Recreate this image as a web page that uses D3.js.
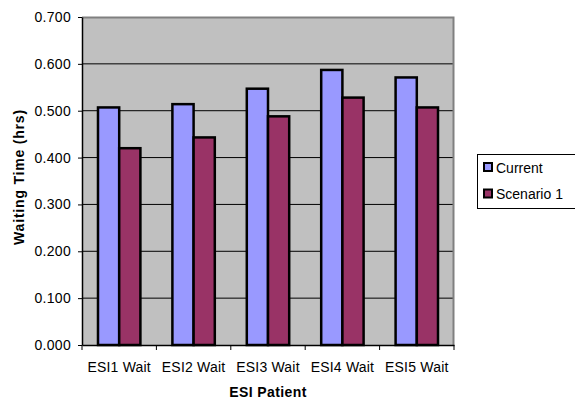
<!DOCTYPE html>
<html><head><meta charset="utf-8">
<script src="https://cdn.jsdelivr.net/npm/d3@7"></script>
<style>body{margin:0;background:#fff}svg{display:block;font-family:Arial,"Liberation Sans",sans-serif}</style>
</head><body><svg id="c" width="575" height="399"></svg>
<script>
const categories = ["ESI1 Wait","ESI2 Wait","ESI3 Wait","ESI4 Wait","ESI5 Wait"];
const seriesNames = ["Current","Scenario 1"];
const currentValues = [0.507,0.514,0.547,0.587,0.571];
const scenarioValues = [0.420,0.443,0.488,0.528,0.507];
const yTicks = [0,0.1,0.2,0.3,0.4,0.5,0.6,0.7];
const colors = ["#9999FF","#993366"];

const FONT = "Arial,'Liberation Sans',sans-serif";
const svg = d3.select("#c");
const L=82,T=17,R=454,B=345;
const x = d3.scaleBand().domain(categories).range([L,R]).paddingInner(0.43).paddingOuter(0.215);
const xs = d3.scaleBand().domain(seriesNames).range([0,x.bandwidth()]);
const y = d3.scaleLinear().domain([0,0.7]).range([B,T]);

svg.append("rect").attr("x",L).attr("y",T).attr("width",R-L).attr("height",B-T).attr("fill","#C0C0C0");
svg.append("g").selectAll("line").data(yTicks.filter(d=>d>0&&d<0.7)).join("line")
  .attr("x1",L).attr("x2",R).attr("y1",d=>y(d)).attr("y2",d=>y(d)).attr("stroke","#000").attr("stroke-width",1);
svg.append("path").attr("d",`M${L},${T+0.5}H${R-0.5}V${B}`).attr("fill","none").attr("stroke","#808080").attr("stroke-width",2);

const data = categories.map((c,i)=>({c, vals:[currentValues[i],scenarioValues[i]]}));
const g = svg.append("g").selectAll("g").data(data).join("g").attr("transform",d=>`translate(${x(d.c)},0)`);
g.selectAll("rect").data(d=>d.vals.map((v,j)=>({v,s:seriesNames[j],j}))).join("rect")
  .attr("x",d=>xs(d.s)).attr("width",xs.bandwidth()).attr("y",d=>y(d.v)).attr("height",d=>B-y(d.v))
  .attr("fill",d=>colors[d.j]).attr("stroke","#000").attr("stroke-width",2.5);

const ya = svg.append("g").attr("transform",`translate(${L},0)`)
  .call(d3.axisLeft(y).tickValues(yTicks).tickFormat(d3.format(".3f")).tickSize(4).tickSizeOuter(0).tickPadding(7));
ya.select(".domain").attr("stroke","#000").attr("stroke-width",1.5);
ya.selectAll("text").attr("font-size",14).attr("fill","#000").attr("font-family",FONT).attr("letter-spacing",0.3);

const xa = svg.append("g").attr("transform",`translate(0,${B})`)
  .call(d3.axisBottom(x).tickSize(0).tickSizeOuter(0));
xa.select(".domain").attr("stroke","#000").attr("stroke-width",1.5);
xa.selectAll("text").attr("font-size",14).attr("fill","#000").attr("font-family",FONT).attr("letter-spacing",0.2)
  .attr("dy",null).attr("y",27);
const bounds = d3.range(categories.length+1).map(i=>L + i*(R-L)/categories.length);
svg.append("g").selectAll("line").data(bounds).join("line")
  .attr("x1",d=>d).attr("x2",d=>d).attr("y1",B).attr("y2",B+5).attr("stroke","#000");

svg.append("text").attr("x",(L+R)/2).attr("y",397).attr("text-anchor","middle").attr("font-size",14).attr("font-weight","bold").attr("font-family",FONT).attr("letter-spacing",0.4).text("ESI Patient");
svg.append("text").attr("transform",`translate(24,177) rotate(-90)`).attr("text-anchor","middle").attr("font-size",14).attr("font-weight","bold").attr("font-family",FONT).attr("letter-spacing",0.8).text("Waiting Time (hrs)");

const lg = svg.append("g");
lg.append("rect").attr("x",477.5).attr("y",154.5).attr("width",100).attr("height",54).attr("fill","#fff").attr("stroke","#000");
seriesNames.forEach((s,i)=>{
  lg.append("rect").attr("x",484).attr("y",163+i*26.5).attr("width",8).attr("height",8).attr("fill",colors[i]).attr("stroke","#000").attr("stroke-width",2);
  lg.append("text").attr("x",496).attr("y",172.5+i*26.5).attr("font-size",14).attr("font-family",FONT).text(s);
});
</script></body></html>
